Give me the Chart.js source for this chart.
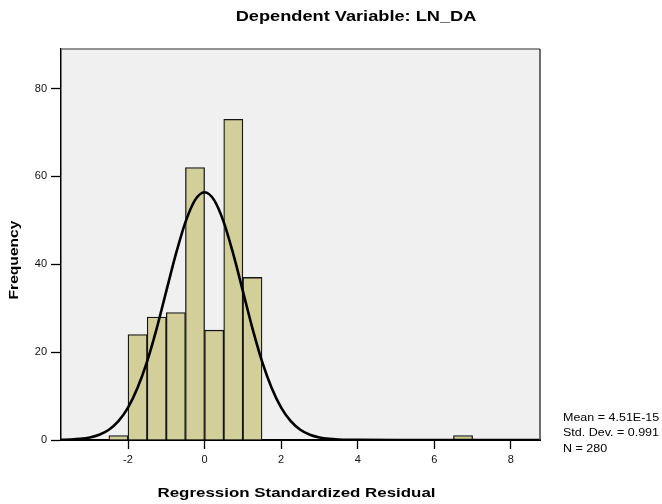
<!DOCTYPE html>
<html>
<head>
<meta charset="utf-8">
<script src="https://cdn.jsdelivr.net/npm/chart.js@4.4.1/dist/chart.umd.min.js"></script>
<style>
    html, body { margin: 0; padding: 0; background: #fff; }
    #wrap { width: 662px; height: 504px; }
</style>
</head>
<body>
<div id="wrap"><canvas id="grafico" width="662" height="504"></canvas></div>
<script>
// histograma dos residuos (centros das classes de 0.5)
const binCenters = [-2.25, -1.75, -1.25, -0.75, -0.25, 0.25, 0.75, 1.25, 6.75];
const binCounts = [1, 24, 28, 29, 62, 25, 73, 37, 1];

// curva normal
const curveX = [-3.75, -3.5, -3.25, -3, -2.75, -2.5, -2.25, -2, -1.75, -1.5, -1.25, -1, -0.75, -0.5, -0.25,
    0, 0.25, 0.5, 0.75, 1, 1.25, 1.5, 1.75, 2, 2.25, 2.5, 2.75, 3, 3.25, 3.5, 3.75, 4, 5, 8.75];
const curveY = [0.04, 0.11, 0.26, 0.58, 1.2, 2.34, 4.28, 7.36, 11.9, 17.9, 25.4, 33.9, 42.3, 49.6, 54.6,
    56.4, 54.6, 49.6, 42.3, 33.9, 25.4, 17.9, 11.9, 7.36, 4.28, 2.34, 1.2, 0.58, 0.26, 0.11, 0.04, 0.02, 0, 0];

const xTicks = [-2, 0, 2, 4, 6, 8];
const yTicks = [0, 20, 40, 60, 80];

const tituloTexto = "Dependent Variable: LN_DA";
const eixoXTexto = "Regression Standardized Residual";
const eixoYTexto = "Frequency";
const estatisticas = ["Mean = 4.51E-15", "Std. Dev. = 0.991", "N = 280"];

const FONTE = "'Liberation Sans', Arial, sans-serif";

// texto esticado na horizontal, como no original
function textoEsticado(ctx, texto, x, y, fonte, alinhamento, esticar, rodar) {
    ctx.save();
    ctx.translate(x, y);
    if (rodar) ctx.rotate(-Math.PI / 2);
    ctx.scale(esticar, 1);
    ctx.font = fonte;
    ctx.fillStyle = "#000";
    ctx.textAlign = alinhamento;
    ctx.textBaseline = "alphabetic";
    ctx.fillText(texto, 0, 0);
    ctx.restore();
}

const fundoPlugin = {
    id: "fundo",
    beforeDraw(chart) {
        const { ctx, chartArea: a } = chart;
        ctx.save();
        ctx.fillStyle = "#f0f0f0";
        ctx.fillRect(a.left, a.top, a.right - a.left, a.bottom - a.top);
        ctx.restore();
    },
    afterDraw(chart) {
        const { ctx, chartArea: a } = chart;
        ctx.save();
        ctx.lineWidth = 1.5;
        ctx.strokeStyle = "#707070";
        ctx.beginPath();
        ctx.moveTo(a.left, a.top);
        ctx.lineTo(a.right, a.top);
        ctx.stroke();
        ctx.strokeStyle = "#404040";
        ctx.beginPath();
        ctx.moveTo(a.right, a.top);
        ctx.lineTo(a.right, a.bottom);
        ctx.stroke();
        ctx.restore();

        textoEsticado(ctx, tituloTexto, 356, 20.5, "bold 14px " + FONTE, "center", 1.3, false);
        textoEsticado(ctx, eixoXTexto, 296.5, 497, "bold 13px " + FONTE, "center", 1.3, false);
        textoEsticado(ctx, eixoYTexto, 17.5, 260, "bold 12px " + FONTE, "center", 1.3, true);
        const linhas = [420.5, 436.3, 452.3];
        estatisticas.forEach((t, i) => {
            textoEsticado(ctx, t, 563, linhas[i], "10px " + FONTE, "left", 1.25, false);
        });
    },
};

new Chart(document.getElementById("grafico").getContext("2d"), {
    type: "bar",
    data: {
        datasets: [
            {
                type: "line",
                data: curveX.map((x, i) => ({ x, y: curveY[i] })),
                borderColor: "#000",
                borderWidth: 2.6,
                pointRadius: 0,
                cubicInterpolationMode: "monotone",
                fill: false,
                order: 0,
            },
            {
                type: "bar",
                data: binCenters.map((x, i) => ({ x, y: binCounts[i] })),
                backgroundColor: "#d3cf9a",
                borderColor: "#151515",
                borderWidth: 1.3,
                barPercentage: 1,
                categoryPercentage: 1,
                order: 1,
            },
        ],
    },
    options: {
        responsive: false,
        animation: false,
        layout: { padding: { top: 49, right: 122, left: 0, bottom: 0 } },
        plugins: { legend: { display: false }, tooltip: { enabled: false }, title: { display: false } },
        scales: {
            x: {
                type: "linear",
                min: -3.75,
                max: 8.76,
                offset: false,
                afterBuildTicks: (s) => { s.ticks = xTicks.map(v => ({ value: v })); },
                afterFit: (s) => { s.height = 64; },
                grid: { display: true, drawOnChartArea: false, offset: false, tickLength: 9, tickColor: "#000", tickWidth: 1.3 },
                border: { display: true, color: "#000", width: 2 },
                ticks: { color: "#111", padding: 4, font: { family: FONTE, size: 11 } },
            },
            y: {
                type: "linear",
                min: 0,
                max: 89,
                afterBuildTicks: (s) => { s.ticks = yTicks.map(v => ({ value: v })); },
                afterFit: (s) => { s.width = 61; },
                grid: { display: true, drawOnChartArea: false, tickLength: 10, tickColor: "#000", tickWidth: 1.3 },
                border: { display: true, color: "#000", width: 1.5 },
                ticks: { color: "#111", padding: 4, font: { family: FONTE, size: 11 } },
            },
        },
    },
    plugins: [fundoPlugin],
});
</script>
</body>
</html>
